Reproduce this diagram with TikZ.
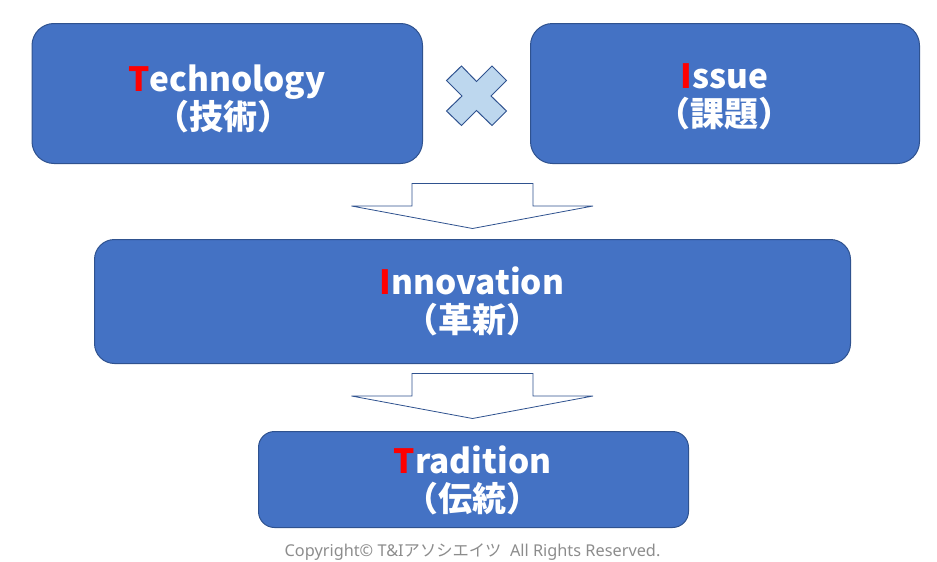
\documentclass[tikz,border=0pt]{standalone}
\usepackage{fontspec}
\setmainfont{Noto Sans}
\newfontfamily\cjk{Noto Sans CJK JP}
\definecolor{boxblue}{HTML}{4472C4}
\definecolor{boxedge}{HTML}{2F528F}
\definecolor{crossfill}{HTML}{BDD7EE}
\definecolor{redletter}{HTML}{FF0000}
\definecolor{copygray}{HTML}{8C8C8C}
\tikzset{
  card/.style={draw=boxedge,fill=boxblue,line width=1pt,rounded corners=#1},
  blockarrow/.style={draw=boxedge,fill=white,line width=0.8pt,line join=miter},
  crossmark/.style={draw=boxedge,fill=crossfill,line width=1pt,line join=miter},
  word/.style={text=white,font=\cjk\bfseries\fontsize{33.4}{34}\selectfont,inner sep=0pt,anchor=base},
  gloss/.style={text=white,font=\cjk\bfseries\fontsize{34}{34}\selectfont,inner sep=0pt,anchor=base},
  notice/.style={text=copygray,font=\fontsize{16.3}{18}\selectfont,inner sep=0pt,anchor=base}
}
\newcommand{\rl}[1]{\textcolor{redletter}{#1}}
\begin{document}
\begin{tikzpicture}[x=1pt,y=-1pt]
\useasboundingbox (0,0) rectangle (937,562);
\path[card=22pt] (32,23.5) rectangle (422.5,163.5);
\path[card=22pt] (530.5,23.5) rectangle (919.5,163.5);
\path[card=20pt] (94.5,239.5) rectangle (850.5,363.5);
\path[card=16pt] (258.5,431.5) rectangle (688.5,527.5);
\path[crossmark] (476.5,81.5) -- (492,66) -- (506.5,80.5) -- (491,96) -- (506.5,111) -- (492,125.5) -- (476.5,110.5) -- (461.5,125.5) -- (446.5,111) -- (462,96) -- (446.5,80.5) -- (461.5,66) -- cycle;
\path[blockarrow] (412,183.5) -- (533,183.5) -- (533,206) -- (593,206) -- (472.5,228.5) -- (351.5,206) -- (412,206) -- cycle;
\path[blockarrow] (412,373.5) -- (533,373.5) -- (533,396) -- (593,396) -- (472.5,418.5) -- (351.5,396) -- (412,396) -- cycle;
\node[word] (t1) at (227,91) {\rl{T}echnology};
\node[gloss] (g1) at (223.5,129) {（技術）};
\node[word] (t2) at (724.5,88) {\rl{I}ssue};
\node[gloss] (g2) at (724.5,126) {（課題）};
\node[word] (t3) at (472,294) {\rl{I}nnovation};
\node[gloss] (g3) at (472,332) {（革新）};
\node[word] (t4) at (472.5,473) {\rl{T}radition};
\node[gloss] (g4) at (472.5,511) {（伝統）};
\node[notice] (c) at (472.5,556) {Copyright© T\&I{\cjk アソシエイツ}\ \ All Rights Reserved.};
\end{tikzpicture}
\end{document}
